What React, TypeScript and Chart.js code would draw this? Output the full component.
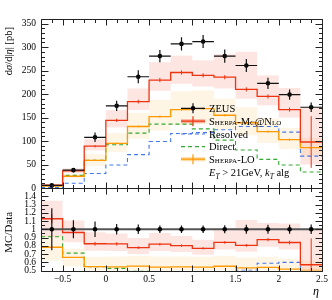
import React, { useEffect, useRef } from "react";
import { Chart, registerables } from "chart.js";

Chart.register(...registerables);

// ---------------- data ----------------
const binEdges = [-0.75, -0.5, -0.25, 0, 0.25, 0.5, 0.75, 1, 1.25, 1.5, 1.75, 2, 2.25, 2.5];
const binCenters = [-0.625, -0.375, -0.125, 0.125, 0.375, 0.625, 0.875, 1.125, 1.375, 1.625, 1.875, 2.125, 2.375];

const zeus = [5.5, 38, 108, 175, 237, 281, 307, 312, 281, 261, 223, 199, 172];
const zeusErr = [1.4, 4.2, 10, 11, 14, 13, 14, 14, 14, 14, 12, 11, 10];

const mcnlo = [6.2, 36.5, 89, 144, 184, 230, 246, 240, 236, 210, 195, 167, 98];
const mcnloErr = [0.3, 1.2, 2.5, 3.5, 4, 4.5, 4.5, 4.5, 4.5, 4.5, 4.5, 4.5, 55];
const mcnloHi = [7.4, 42, 104, 166, 212, 268, 282, 272, 285, 290, 240, 213, 172];
const mcnloLo = [5.0, 32, 80, 129, 166, 207, 222, 216, 212, 190, 176, 150, 50];

const sherpaLo = [4.3, 25, 59, 95, 131, 152, 167, 169, 155, 139, 120, 103, 86];
const sherpaLoErr = [0.2, 0.8, 1.5, 2, 2, 2.5, 2.5, 2.5, 2.5, 2.5, 2.5, 2.5, 2.5];
const sherpaLoHi = [5.1, 29, 72, 117, 160, 188, 206, 208, 190, 172, 148, 128, 107];
const sherpaLoLo = [3.4, 21, 47, 77, 105, 122, 134, 136, 124, 112, 96, 83, 69];

const resolved = [0.8, 10, 31, 49, 71, 99, 116, 118, 124, 131, 131, 119, 68];
const direct = [5.0, 27, 59, 92, 117, 136, 136, 126, 102, 81, 61, 49, 34];

const yTicksMain = [0, 50, 100, 150, 200, 250, 300, 350];
const yTickLabelsMain = ["0", "50", "100", "150", "200", "250", "300", "350"];
const yTicksRatio = [0.5, 0.6, 0.7, 0.8, 0.9, 1, 1.1, 1.2, 1.3, 1.4];
const yTickLabelsRatio = ["0.5", "0.6", "0.7", "0.8", "0.9", "1", "1.1", "1.2", "1.3", "1.4"];
const xTicks = [-0.5, 0, 0.5, 1, 1.5, 2, 2.5];
const xTickLabels = ["\u22120.5", "0", "0.5", "1", "1.5", "2", "2.5"];

// ---------------- style ----------------
const SERIF = "'Liberation Serif', 'DejaVu Serif', serif";
const RED = "#ee3311";
const ORANGE = "#ff9900";
const BLUE = "#4477ee";
const GREEN = "#33a833";
const RED_BAND = "rgba(238, 51, 17, 0.12)";
const ORANGE_BAND = "rgba(255, 153, 0, 0.10)";

const ratioOf = (vals: number[]) => vals.map((v, i) => v / zeus[i]);
const stepPts = (vals: number[]) =>
  binEdges.map((x, i) => ({ x, y: vals[Math.min(i, vals.length - 1)] }));
const bandPts = (lo: number[], hi: number[]) =>
  binCenters.map((x, i) => ({ x, y: [lo[i], hi[i]] }));

type Seg = { t: string; f: string; dy?: number };

function drawRich(
  ctx: CanvasRenderingContext2D,
  segs: Seg[],
  x: number,
  y: number,
  align: "left" | "center" | "right",
  rotate: boolean,
  baseline: CanvasTextBaseline
) {
  ctx.save();
  ctx.translate(x, y);
  if (rotate) ctx.rotate(-Math.PI / 2);
  ctx.textAlign = "left";
  ctx.textBaseline = baseline;
  const widths = segs.map((s) => {
    ctx.font = s.f;
    return ctx.measureText(s.t).width;
  });
  const total = widths.reduce((a, b) => a + b, 0);
  let cx = align === "right" ? -total : align === "center" ? -total / 2 : 0;
  segs.forEach((s, i) => {
    ctx.font = s.f;
    ctx.fillText(s.t, cx, s.dy || 0);
    cx += widths[i];
  });
  ctx.restore();
}

const crisp = (v: number) => Math.round(v) + 0.5;

const decorPlugin = {
  id: "decor",
  afterDraw(chart: any) {
    const ctx: CanvasRenderingContext2D = chart.ctx;
    const xs = chart.scales.x;
    const ym = chart.scales.y;
    const yr = chart.scales.y2;
    const X = (v: number) => xs.getPixelForValue(v);

    // ---- error bars, main panel ----
    ctx.save();
    ctx.beginPath();
    ctx.rect(xs.left, ym.top, xs.right - xs.left, ym.bottom - ym.top);
    ctx.clip();
    ctx.lineWidth = 1;
    ctx.strokeStyle = RED;
    ctx.beginPath();
    binCenters.forEach((c, i) => {
      ctx.moveTo(X(c), ym.getPixelForValue(mcnlo[i] - mcnloErr[i]));
      ctx.lineTo(X(c), ym.getPixelForValue(mcnlo[i] + mcnloErr[i]));
    });
    ctx.stroke();
    ctx.strokeStyle = ORANGE;
    ctx.beginPath();
    binCenters.forEach((c, i) => {
      ctx.moveTo(X(c), ym.getPixelForValue(sherpaLo[i] - sherpaLoErr[i]));
      ctx.lineTo(X(c), ym.getPixelForValue(sherpaLo[i] + sherpaLoErr[i]));
    });
    ctx.stroke();
    ctx.strokeStyle = "#111";
    ctx.lineWidth = 1.2;
    ctx.beginPath();
    binCenters.forEach((c, i) => {
      const py = ym.getPixelForValue(zeus[i]);
      ctx.moveTo(X(binEdges[i]), py);
      ctx.lineTo(X(binEdges[i + 1]), py);
      ctx.moveTo(X(c), ym.getPixelForValue(zeus[i] - zeusErr[i]));
      ctx.lineTo(X(c), ym.getPixelForValue(zeus[i] + zeusErr[i]));
    });
    ctx.stroke();
    ctx.restore();

    // ---- error bars, ratio panel ----
    ctx.save();
    ctx.beginPath();
    ctx.rect(xs.left, yr.top, xs.right - xs.left, yr.bottom - yr.top);
    ctx.clip();
    ctx.lineWidth = 1;
    ctx.strokeStyle = RED;
    ctx.beginPath();
    binCenters.forEach((c, i) => {
      const r = mcnlo[i] / zeus[i];
      const e = mcnloErr[i] / zeus[i];
      ctx.moveTo(X(c), yr.getPixelForValue(r - e));
      ctx.lineTo(X(c), yr.getPixelForValue(r + e));
    });
    ctx.stroke();
    ctx.strokeStyle = "#555";
    ctx.lineWidth = 2;
    ctx.beginPath();
    ctx.moveTo(X(binEdges[0]), yr.getPixelForValue(1));
    ctx.lineTo(X(binEdges[binEdges.length - 1]), yr.getPixelForValue(1));
    ctx.stroke();
    ctx.strokeStyle = "#111";
    ctx.lineWidth = 1.2;
    ctx.beginPath();
    binCenters.forEach((c, i) => {
      const e = zeusErr[i] / zeus[i];
      ctx.moveTo(X(c), yr.getPixelForValue(1 - e));
      ctx.lineTo(X(c), yr.getPixelForValue(1 + e));
    });
    ctx.stroke();
    ctx.fillStyle = "#000";
    binCenters.forEach((c) => {
      ctx.beginPath();
      ctx.arc(X(c), yr.getPixelForValue(1), 2.3, 0, Math.PI * 2);
      ctx.fill();
    });
    ctx.restore();

    // ---- frames and ticks ----
    ctx.save();
    ctx.strokeStyle = "#222";
    ctx.lineWidth = 1;
    const L = crisp(xs.left);
    const R = crisp(xs.right);
    const panels = [
      { top: crisp(ym.top), bot: crisp(ym.bottom) },
      { top: crisp(yr.top), bot: crisp(yr.bottom) },
    ];
    ctx.beginPath();
    panels.forEach((p) => {
      ctx.rect(L, p.top, R - L, p.bot - p.top);
      for (let k = 0; k <= 26; k++) {
        const v = -0.75 + k * 0.125;
        const px = crisp(X(v));
        const len = (k - 2) % 4 === 0 ? 6 : 3.5;
        ctx.moveTo(px, p.bot);
        ctx.lineTo(px, p.bot - len);
        ctx.moveTo(px, p.top);
        ctx.lineTo(px, p.top + len);
      }
    });
    for (let v = 0; v <= 360; v += 10) {
      const py = crisp(ym.getPixelForValue(v));
      const len = v % 50 === 0 ? 7 : 3.5;
      ctx.moveTo(L, py);
      ctx.lineTo(L + len, py);
      ctx.moveTo(R, py);
      ctx.lineTo(R - len, py);
    }
    for (let k = 0; k <= 20; k++) {
      const py = crisp(yr.getPixelForValue(0.5 + k * 0.05));
      const len = k % 2 === 0 ? 7 : 3.5;
      ctx.moveTo(L, py);
      ctx.lineTo(L + len, py);
      ctx.moveTo(R, py);
      ctx.lineTo(R - len, py);
    }
    ctx.stroke();
    ctx.restore();

    // ---- tick labels ----
    ctx.save();
    ctx.fillStyle = "#000";
    ctx.font = `9.5px ${SERIF}`;
    ctx.textAlign = "right";
    ctx.textBaseline = "middle";
    yTicksMain.forEach((v, i) => {
      ctx.fillText(yTickLabelsMain[i], xs.left - 5, ym.getPixelForValue(v));
    });
    yTicksRatio.forEach((v, i) => {
      ctx.fillText(yTickLabelsRatio[i], xs.left - 5, yr.getPixelForValue(v));
    });
    ctx.textAlign = "center";
    xTicks.forEach((v, i) => {
      ctx.fillText(xTickLabels[i], X(v), yr.bottom + 9);
    });
    ctx.restore();

    // ---- axis titles ----
    ctx.save();
    ctx.fillStyle = "#000";
    const fN = `10.5px ${SERIF}`;
    const fI = `italic 10.5px ${SERIF}`;
    drawRich(
      ctx,
      [
        { t: "d", f: fN },
        { t: "\u03c3", f: fI },
        { t: "/d|", f: fN },
        { t: "\u03b7", f: fI },
        { t: "| [pb]", f: fN },
      ],
      9.5,
      ym.top + 8,
      "right",
      true,
      "middle"
    );
    drawRich(ctx, [{ t: "MC/Data", f: `11px ${SERIF}` }], 9.5, yr.getPixelForValue(1) + 3, "center", true, "middle");
    drawRich(ctx, [{ t: "\u03b7", f: `italic 12px ${SERIF}` }], xs.right - 6, 292, "center", false, "middle");
    ctx.restore();

    // ---- legend ----
    ctx.save();
    const lx0 = 181;
    const lx1 = 205;
    const lxc = 193;
    const tx = 209;
    const rows = [108.3, 121.2, 134, 146.6, 159.2, 172.5];
    const fL = `10.5px ${SERIF}`;
    const fSC = `small-caps 10.5px ${SERIF}`;
    ctx.strokeStyle = "#111";
    ctx.lineWidth = 1.2;
    ctx.beginPath();
    ctx.moveTo(lx0, rows[0]);
    ctx.lineTo(lx1, rows[0]);
    ctx.moveTo(lxc, rows[0] - 5);
    ctx.lineTo(lxc, rows[0] + 5);
    ctx.stroke();
    ctx.fillStyle = "#000";
    ctx.beginPath();
    ctx.arc(lxc, rows[0], 2.3, 0, Math.PI * 2);
    ctx.fill();
    ctx.fillStyle = "rgba(238, 51, 17, 0.35)";
    ctx.fillRect(lx0, rows[1] - 2, lx1 - lx0, 4);
    ctx.strokeStyle = RED;
    ctx.lineWidth = 1.2;
    ctx.beginPath();
    ctx.moveTo(lx0, rows[1]);
    ctx.lineTo(lx1, rows[1]);
    ctx.moveTo(lxc, rows[1] - 5);
    ctx.lineTo(lxc, rows[1] + 5);
    ctx.stroke();
    ctx.setLineDash([4, 3]);
    ctx.lineWidth = 1.1;
    ctx.strokeStyle = BLUE;
    ctx.beginPath();
    ctx.moveTo(lx0, rows[2]);
    ctx.lineTo(lx1, rows[2]);
    ctx.stroke();
    ctx.strokeStyle = GREEN;
    ctx.beginPath();
    ctx.moveTo(lx0, rows[3]);
    ctx.lineTo(lx1, rows[3]);
    ctx.stroke();
    ctx.setLineDash([]);
    ctx.fillStyle = "rgba(255, 153, 0, 0.35)";
    ctx.fillRect(lx0, rows[4] - 2, lx1 - lx0, 4);
    ctx.strokeStyle = ORANGE;
    ctx.lineWidth = 1.2;
    ctx.beginPath();
    ctx.moveTo(lx0, rows[4]);
    ctx.lineTo(lx1, rows[4]);
    ctx.moveTo(lxc, rows[4] - 5);
    ctx.lineTo(lxc, rows[4] + 5);
    ctx.stroke();

    ctx.fillStyle = "#000";
    const dyb = 3.7;
    drawRich(ctx, [{ t: "ZEUS", f: fL }], tx, rows[0] + dyb, "left", false, "alphabetic");
    drawRich(ctx, [{ t: "Sherpa-Mc@Nlo", f: fSC }], tx, rows[1] + dyb, "left", false, "alphabetic");
    drawRich(ctx, [{ t: "Resolved", f: fL }], tx, rows[2] + dyb, "left", false, "alphabetic");
    drawRich(ctx, [{ t: "Direct", f: fL }], tx, rows[3] + dyb, "left", false, "alphabetic");
    drawRich(ctx, [{ t: "Sherpa-LO", f: fSC }], tx, rows[4] + dyb, "left", false, "alphabetic");
    const fIt = `italic 10.5px ${SERIF}`;
    const fSub = `italic 7.5px ${SERIF}`;
    drawRich(
      ctx,
      [
        { t: "E", f: fIt },
        { t: "T", f: fSub, dy: 2.5 },
        { t: " > 21GeV, ", f: fL },
        { t: "k", f: fIt },
        { t: "T", f: fSub, dy: 2.5 },
        { t: " alg", f: fL },
      ],
      tx,
      rows[5] + dyb,
      "left",
      false,
      "alphabetic"
    );
    ctx.restore();
  },
};

function makeConfig(): any {
  const barBase = {
    type: "bar",
    grouped: false,
    barPercentage: 1,
    categoryPercentage: 1,
    borderWidth: 0,
    inflateAmount: 0,
    clip: 0,
  };
  const lineBase = {
    type: "line",
    stepped: "before",
    pointRadius: 0,
    fill: false,
    tension: 0,
    clip: 0,
  };
  const hiddenAxis = {
    ticks: { display: false },
    grid: { display: false, drawTicks: false },
    border: { display: false },
  };
  return {
    type: "line",
    data: {
      datasets: [
        { ...barBase, data: bandPts(sherpaLoLo, sherpaLoHi), yAxisID: "y", backgroundColor: ORANGE_BAND, order: 21 },
        { ...barBase, data: bandPts(mcnloLo, mcnloHi), yAxisID: "y", backgroundColor: RED_BAND, order: 20 },
        { ...barBase, data: bandPts(ratioOf(sherpaLoLo), ratioOf(sherpaLoHi)), yAxisID: "y2", backgroundColor: ORANGE_BAND, order: 23 },
        { ...barBase, data: bandPts(ratioOf(mcnloLo), ratioOf(mcnloHi)), yAxisID: "y2", backgroundColor: RED_BAND, order: 22 },

        { ...lineBase, data: stepPts(resolved), yAxisID: "y", borderColor: BLUE, borderWidth: 1.1, borderDash: [4, 3], order: 11 },
        { ...lineBase, data: stepPts(direct), yAxisID: "y", borderColor: GREEN, borderWidth: 1.1, borderDash: [4, 3], order: 10 },
        { ...lineBase, data: stepPts(sherpaLo), yAxisID: "y", borderColor: ORANGE, borderWidth: 1.3, order: 9 },
        { ...lineBase, data: stepPts(mcnlo), yAxisID: "y", borderColor: RED, borderWidth: 1.3, order: 8 },

        { ...lineBase, data: stepPts(ratioOf(resolved)), yAxisID: "y2", borderColor: BLUE, borderWidth: 1.1, borderDash: [4, 3], order: 11 },
        { ...lineBase, data: stepPts(ratioOf(direct)), yAxisID: "y2", borderColor: GREEN, borderWidth: 1.1, borderDash: [4, 3], order: 10 },
        { ...lineBase, data: stepPts(ratioOf(sherpaLo)), yAxisID: "y2", borderColor: ORANGE, borderWidth: 1.3, order: 9 },
        { ...lineBase, data: stepPts(ratioOf(mcnlo)), yAxisID: "y2", borderColor: RED, borderWidth: 1.3, order: 8 },

        {
          type: "line",
          data: binCenters.map((x, i) => ({ x, y: zeus[i] })),
          yAxisID: "y",
          showLine: false,
          pointRadius: 2.3,
          pointBackgroundColor: "#000",
          pointBorderWidth: 0,
          borderColor: "#000",
          order: 0,
          clip: false,
        },
      ],
    },
    options: {
      animation: false,
      responsive: false,
      maintainAspectRatio: false,
      events: [],
      layout: { padding: { left: 41, right: 10, top: 19, bottom: 29.5 } },
      plugins: { legend: { display: false }, tooltip: { enabled: false } },
      scales: {
        x: {
          type: "linear",
          min: -0.75,
          max: 2.5,
          offset: false,
          ...hiddenAxis,
          ticks: { display: false, stepSize: 0.25 },
        },
        y2: {
          type: "linear",
          position: "left",
          min: 0.5,
          max: 1.5,
          stack: "panels",
          stackWeight: 82.5,
          stacked: false,
          offset: false,
          ...hiddenAxis,
        },
        y: {
          type: "linear",
          position: "left",
          min: 0,
          max: 360,
          stack: "panels",
          stackWeight: 169,
          stacked: false,
          offset: false,
          ...hiddenAxis,
        },
      },
    },
    plugins: [decorPlugin],
  };
}

export default function App() {
  const ref = useRef<HTMLCanvasElement>(null);
  useEffect(() => {
    const canvas = ref.current;
    if (!canvas) return;
    const chart = new Chart(canvas, makeConfig());
    return () => chart.destroy();
  }, []);
  return (
    <div style={{ position: "absolute", left: 0, top: 0, width: 332, height: 300, background: "#fff" }}>
      <canvas ref={ref} width={332} height={300} style={{ display: "block", width: 332, height: 300 }} />
    </div>
  );
}
